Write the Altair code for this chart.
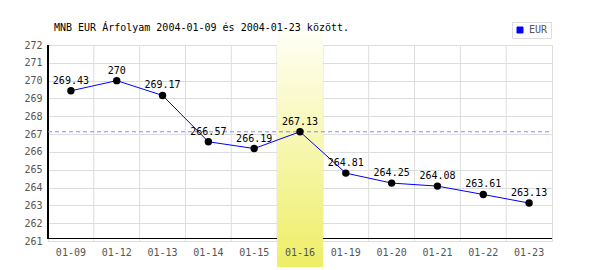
import altair as alt
import pandas as pd

dates = ["01-09", "01-12", "01-13", "01-14", "01-15", "01-16",
         "01-19", "01-20", "01-21", "01-22", "01-23"]
values = [269.43, 270.0, 269.17, 266.57, 266.19, 267.13,
          264.81, 264.25, 264.08, 263.61, 263.13]
value_labels = ["269.43", "270", "269.17", "266.57", "266.19", "267.13",
                "264.81", "264.25", "264.08", "263.61", "263.13"]
highlight_date = "01-16"
ref_value = 267.13
y_ticks = list(range(261, 273))
title_text = "MNB EUR Árfolyam 2004-01-09 és 2004-01-23 között."
series_name = "EUR"

FONT = "DejaVu Sans Mono"
W, H = 504, 196

df = pd.DataFrame({"date": dates, "value": values, "label": value_labels,
                   "series": [series_name] * len(dates)})
hl_df = pd.DataFrame({"date": [highlight_date]})
ref_df = pd.DataFrame({"value": [ref_value]})
grid_df = pd.DataFrame({"date": dates[1:]})

xscale = alt.Scale(domain=dates, paddingInner=0, paddingOuter=0)
yscale = alt.Scale(domain=[261, 272], nice=False, zero=False)

x_ax = alt.Axis(title=None, domain=False, ticks=False, grid=False,
                labelAngle=0, labelFont=FONT, labelFontSize=10,
                labelColor="#555555", labelPadding=6, zindex=1,
                labelOverlap=False)
y_ax = alt.Axis(title=None, values=y_ticks, domain=False, ticks=False,
                grid=True, gridColor="#dddddd", labelFont=FONT,
                labelFontSize=10, labelColor="#555555", labelPadding=6,
                labelOverlap=False, labelBound=False, zindex=0)


def X(**kw):
    return alt.X("date:N", scale=xscale, sort=dates, axis=x_ax, **kw)


def Y():
    return alt.Y("value:Q", scale=yscale, axis=y_ax)


base = alt.Chart(df)

vgrid = alt.Chart(grid_df).mark_rule(color="#dddddd", strokeWidth=1).encode(
    x=X(bandPosition=0), y=alt.value(0), y2=alt.value(H))

grad = alt.LinearGradient(gradient="linear", x1=0, y1=0, x2=0, y2=1,
                          stops=[alt.GradientStop(offset=0, color="#fffff6"),
                                 alt.GradientStop(offset=1, color="#eeee66")])
hl = alt.Chart(hl_df).mark_rect(clip=False, color=grad).encode(
    x=X(), y=alt.value(-15), y2=alt.value(222))

xdomain = base.mark_rule(color="black", strokeWidth=1).encode(
    x=alt.value(0), x2=alt.value(W), y=alt.value(H - 2.5))
ydomain = base.mark_rule(color="black", strokeWidth=1).encode(
    x=alt.value(0), y=alt.value(0), y2=alt.value(H - 2.5))

ref = alt.Chart(ref_df).mark_rule(color="#8888ff", strokeDash=[4, 3], strokeWidth=1).encode(
    y=Y(), x=alt.value(0), x2=alt.value(W))

line = base.mark_line(strokeWidth=1).encode(
    x=X(), y=Y(),
    color=alt.Color("series:N", scale=alt.Scale(domain=[series_name], range=["#0000ff"]),
                    legend=alt.Legend(title=None, orient="none", legendX=464, legendY=-23,
                                      symbolType="square", symbolSize=36,
                                      symbolFillColor="#0000ff", symbolStrokeColor="#000066",
                                      symbolStrokeWidth=1,
                                      labelFont=FONT, labelFontSize=10, labelColor="#555555",
                                      strokeColor="#dddddd", fillColor="white",
                                      padding=3)))

pts = base.mark_circle(size=55, color="black", opacity=1).encode(x=X(), y=Y())

txt = base.mark_text(font=FONT, fontSize=10, color="black", baseline="alphabetic",
                     dy=-7).encode(x=X(), y=Y(), text="label:N")

chart = alt.layer(vgrid, xdomain, hl, ydomain, ref, line, pts, txt).properties(
    width=W, height=H,
    autosize=alt.AutoSizeParams(type="none"),
    padding={"left": 48, "top": 45, "right": 48, "bottom": 29},
    title=alt.TitleParams(title_text, anchor="start", frame="group", font=FONT,
                          fontSize=10, fontWeight="normal", color="black",
                          offset=13, dx=6, dy=24),
).configure_view(stroke="#dddddd", strokeWidth=1).configure(background="white")

chart.save("out.html", embed_options={"renderer": "svg", "actions": False})
